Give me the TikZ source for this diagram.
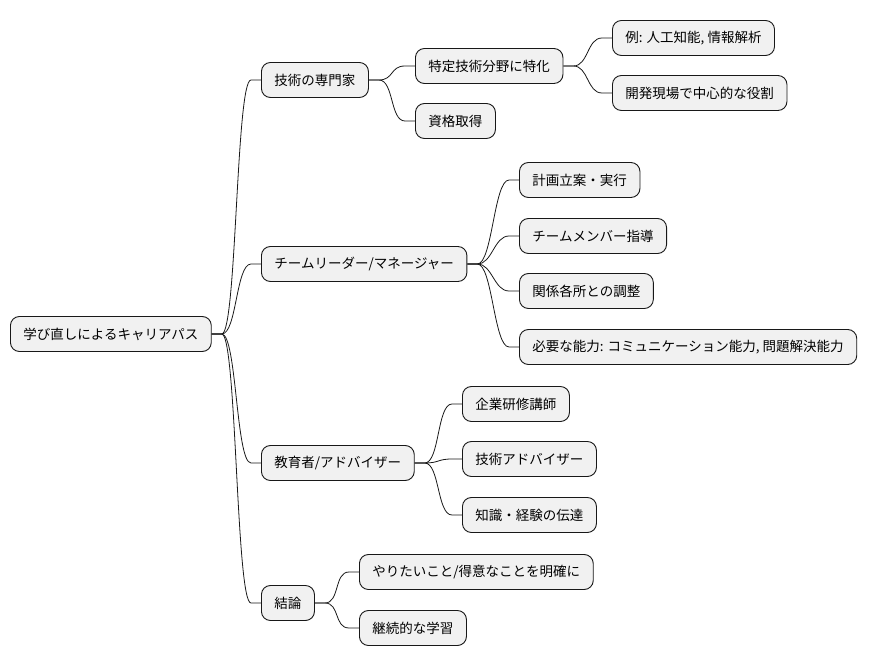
\documentclass[tikz,border=0pt]{standalone}
\usepackage{fontspec}
\setmainfont{Noto Sans CJK JP}
\usetikzlibrary{calc}
\definecolor{MM_Fill}{HTML}{F1F1F1}
\definecolor{MM_Line}{HTML}{181818}

\begin{document}
\begin{tikzpicture}[x=1pt, y=-1pt,
  topic/.style={draw=MM_Line, line width=0.9pt, fill=MM_Fill, rounded corners=9pt, minimum height=35pt, inner xsep=13pt, inner ysep=0pt, anchor=west, font=\fontsize{13.5}{16}\selectfont},
  branch/.style={draw=MM_Line, line width=0.8pt, to path={-- ++(10,0) .. controls +(15,0) and +(-15,0) .. ($(\tikztotarget)+(-10,0)$) -- (\tikztotarget)}},
]
\useasboundingbox (0,0) rectangle (875,668);

% --- root ---
\node[topic] (root) at (10, 334) {学び直しによるキャリアパス};

% --- first level ---
\node[topic] (tech) at (261, 80) {技術の専門家};
\node[topic] (lead) at (261, 264) {チームリーダー/マネージャー};
\node[topic] (edu) at (261, 463) {教育者/アドバイザー};
\node[topic] (concl) at (261, 603) {結論};

% --- expert ---
\node[topic] (spec) at (415, 66) {特定技術分野に特化};
\node[topic] (cert) at (415, 121) {資格取得};
\node[topic] (ex) at (612, 38) {例: 人工知能, 情報解析};
\node[topic] (core) at (612, 93) {開発現場で中心的な役割};

% --- leader ---
\node[topic] (plan) at (519, 180) {計画立案・実行};
\node[topic] (coach) at (519, 236) {チームメンバー指導};
\node[topic] (coord) at (519, 291) {関係各所との調整};
\node[topic] (skill) at (519, 347) {必要な能力: コミュニケーション能力, 問題解決能力};

% --- educator ---
\node[topic] (trainer) at (462, 404) {企業研修講師};
\node[topic] (advisor) at (462, 459) {技術アドバイザー};
\node[topic] (transfer) at (462, 515) {知識・経験の伝達};

% --- conclusion ---
\node[topic] (goal) at (359, 572) {やりたいこと/得意なことを明確に};
\node[topic] (learn) at (359, 628) {継続的な学習};

% --- branches ---
\foreach \from/\to in {
  root/tech, root/lead, root/edu, root/concl,
  tech/spec, tech/cert, spec/ex, spec/core,
  lead/plan, lead/coach, lead/coord, lead/skill,
  edu/trainer, edu/advisor, edu/transfer,
  concl/goal, concl/learn}
{
  \draw[branch] (\from.east) to (\to.west);
}

\end{tikzpicture}
\end{document}
